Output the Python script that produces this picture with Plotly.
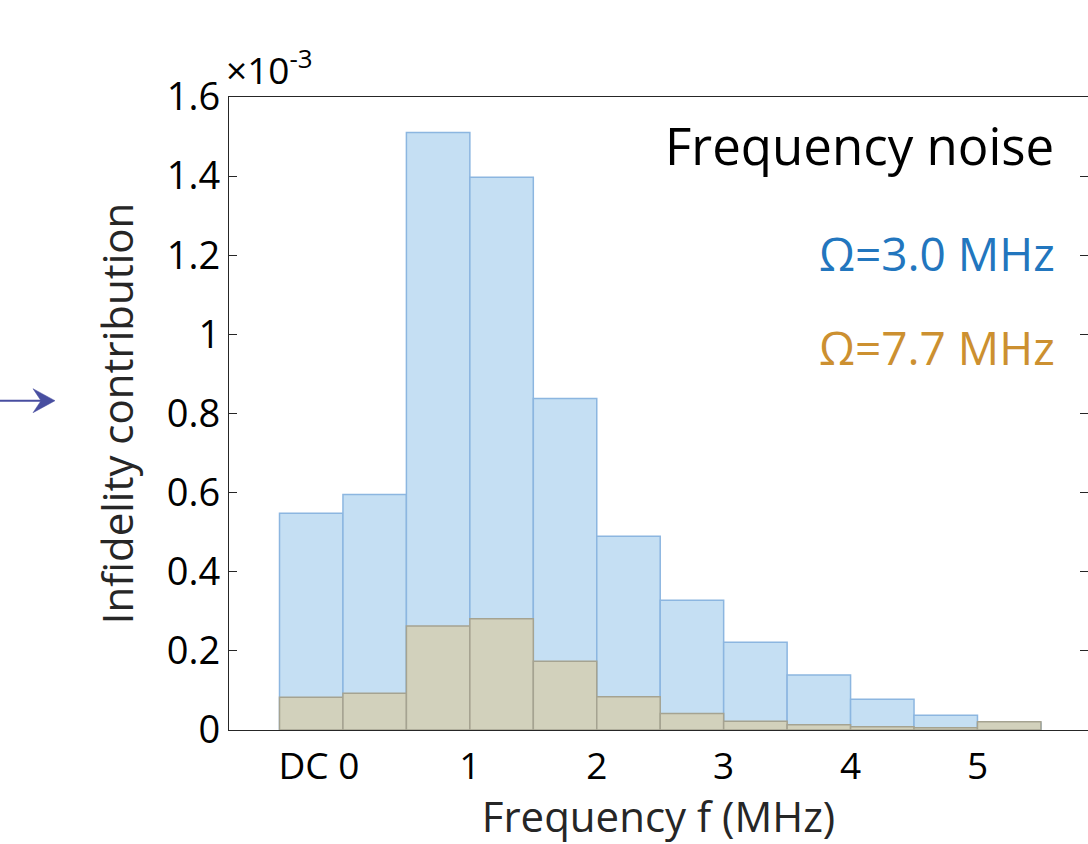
import plotly.graph_objects as go

# Bin centers (MHz); first bin is the DC component
bin_centers = [-0.25, 0.25, 0.75, 1.25, 1.75, 2.25, 2.75, 3.25, 3.75, 4.25, 4.75, 5.25]
bin_width = 0.5
# Infidelity contribution (x1e-3)
omega_3p0 = [0.548, 0.595, 1.510, 1.397, 0.838, 0.490, 0.328, 0.222, 0.139, 0.078, 0.037, 0.018]
omega_7p7 = [0.083, 0.093, 0.263, 0.281, 0.174, 0.084, 0.042, 0.022, 0.0135, 0.0085, 0.006, 0.021]

x_tickvals = [-0.19, 1, 2, 3, 4, 5]
x_ticktext = ["DC 0", "1", "2", "3", "4", "5"]
y_tickvals = [0, 0.2, 0.4, 0.6, 0.8, 1.0, 1.2, 1.4, 1.6]

FONT = "Open Sans"

# plot-area geometry (pixels) used to place the side arrow in paper units
L, R, T, B = 229, 1088, 97, 730
def px(xp):
    return (xp - L) / (R - L)
def py(yp):
    return (B - yp) / (B - T)

fig = go.Figure()
fig.add_trace(go.Bar(
    x=bin_centers, y=omega_3p0, width=bin_width,
    marker=dict(color="rgb(197,223,243)", line=dict(color="rgb(140,182,224)", width=1.5)),
    name="Ω=3.0 MHz", showlegend=False,
))
fig.add_trace(go.Bar(
    x=bin_centers, y=omega_7p7, width=bin_width,
    marker=dict(color="rgb(210,209,188)", line=dict(color="rgb(165,163,145)", width=1.5)),
    name="Ω=7.7 MHz", showlegend=False,
))

arrow_col = "rgb(72,78,160)"
ay = 400.7
shapes = [
    dict(type="line", xref="paper", yref="paper", x0=px(0), x1=px(44), y0=py(ay), y1=py(ay),
         line=dict(color=arrow_col, width=2)),
    dict(type="path", xref="paper", yref="paper",
         path=(f"M {px(55)} {py(ay)} L {px(33)} {py(ay-12)} L {px(41)} {py(ay)} "
               f"L {px(33)} {py(ay+12)} Z"),
         fillcolor=arrow_col, line=dict(color=arrow_col, width=0.5)),
]

fig.update_layout(
    barmode="overlay",
    width=1088, height=844,
    margin=dict(l=L, r=1088 - R, t=T, b=844 - B),
    paper_bgcolor="white", plot_bgcolor="white",
    font=dict(family=FONT, color="black"),
    shapes=shapes,
    xaxis=dict(
        range=[-0.898, 5.871],
        tickmode="array", tickvals=x_tickvals, ticktext=x_ticktext,
        ticks="", showgrid=False, zeroline=False, ticklabelstandoff=3,
        showline=True, linecolor="#262626", linewidth=1.2, mirror=True,
        tickfont=dict(size=37, family=FONT, color="black"),
        title=dict(text="Frequency f (MHz)", font=dict(size=42, family=FONT, color="#262626"), standoff=7),
    ),
    yaxis=dict(
        range=[0, 1.6],
        tickmode="array", tickvals=y_tickvals,
        ticks="inside", ticklen=8, tickcolor="#262626",
        showgrid=False, zeroline=False,
        showline=True, linecolor="#262626", linewidth=1.2, mirror="ticks",
        tickfont=dict(size=38, family=FONT, color="black"),
        title=dict(text="Infidelity contribution", font=dict(size=42, family=FONT, color="#262626"), standoff=20),
    ),
    annotations=[
        dict(text="×10<sup>-3</sup>", xref="paper", yref="paper", x=-0.006, y=1.046,
             xanchor="left", yanchor="middle", showarrow=False,
             font=dict(size=37, family=FONT, color="black")),
        dict(text="Frequency noise", xref="paper", yref="paper", x=0.9625, y=0.924,
             xanchor="right", yanchor="middle", showarrow=False,
             font=dict(size=51, family=FONT, color="black")),
        dict(text="Ω=3.0 MHz", xref="paper", yref="paper", x=0.9635, y=0.753,
             xanchor="right", yanchor="middle", showarrow=False,
             font=dict(size=46, family=FONT, color="rgb(34,118,190)")),
        dict(text="Ω=7.7 MHz", xref="paper", yref="paper", x=0.9635, y=0.605,
             xanchor="right", yanchor="middle", showarrow=False,
             font=dict(size=46, family=FONT, color="rgb(204,144,48)")),
    ],
)

fig.write_html("out.html")
